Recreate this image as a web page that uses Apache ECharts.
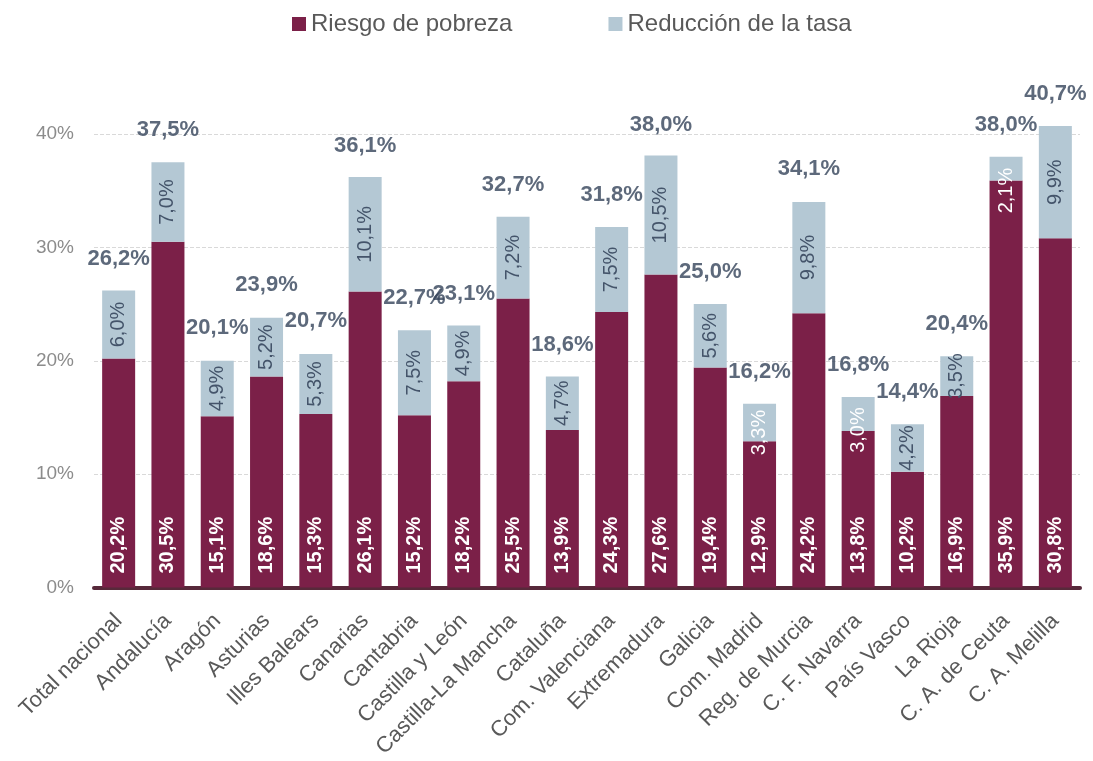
<!DOCTYPE html>
<html>
<head>
<meta charset="utf-8">
<title>Riesgo de pobreza</title>
<script src="https://cdn.jsdelivr.net/npm/echarts@6/dist/echarts.min.js"></script>
<style>
  html, body { margin: 0; padding: 0; background: #fff; }
  #chart { width: 1093px; height: 761px; }
</style>
</head>
<body>
<div id="chart"></div>
<script>
const categories = ["Total nacional", "Andalucía", "Aragón", "Asturias", "Illes Balears", "Canarias",
  "Cantabria", "Castilla y León", "Castilla-La Mancha", "Cataluña", "Com. Valenciana", "Extremadura",
  "Galicia", "Com. Madrid", "Reg. de Murcia", "C. F. Navarra", "País Vasco", "La Rioja",
  "C. A. de Ceuta", "C. A. Melilla"];
const riesgo = [20.2, 30.5, 15.1, 18.6, 15.3, 26.1, 15.2, 18.2, 25.5, 13.9, 24.3, 27.6, 19.4, 12.9, 24.2, 13.8, 10.2, 16.9, 35.9, 30.8];
const reduccion = [6.0, 7.0, 4.9, 5.2, 5.3, 10.1, 7.5, 4.9, 7.2, 4.7, 7.5, 10.5, 5.6, 3.3, 9.8, 3.0, 4.2, 3.5, 2.1, 9.9];
const totales = [26.2, 37.5, 20.1, 23.9, 20.7, 36.1, 22.7, 23.1, 32.7, 18.6, 31.8, 38.0, 25.0, 16.2, 34.1, 16.8, 14.4, 20.4, 38.0, 40.7];
const yTicks = [0, 10, 20, 30, 40];

const fmt = v => v.toFixed(1).replace(".", ",") + "%";

// etiquetas que no caben en el tramo: blancas y desplazadas hacia abajo
const ajustes = { 13: 10, 15: 16, 18: 22 };

const reduccionData = reduccion.map((v, i) => {
  if (ajustes[i] === undefined) return v;
  // con rotate 90 el eje x del texto apunta hacia arriba
  return { value: v, label: { color: "#ffffff", offset: [-ajustes[i], 0] } };
});

const chart = echarts.init(document.getElementById("chart"));
const option = {
  animation: false,
  textStyle: { fontFamily: "Liberation Sans, Arial, sans-serif" },
  legend: {
    top: 7,
    left: 287,
    itemWidth: 14,
    itemHeight: 14,
    itemGap: 96,
    icon: "rect",
    textStyle: { fontSize: 24, color: "#595959" },
    data: ["Riesgo de pobreza", "Reducción de la tasa"]
  },
  grid: { left: 94, right: 13, top: 134, bottom: 173.5, containLabel: false, outerBoundsMode: "none" },
  xAxis: {
    type: "category",
    data: categories,
    axisTick: { show: false },
    axisLine: { lineStyle: { color: "#57293a", width: 4 } },
    axisLabel: { rotate: 45, fontSize: 22, color: "#595959", margin: 30, interval: 0 }
  },
  yAxis: {
    type: "value",
    min: yTicks[0],
    max: yTicks[yTicks.length - 1],
    interval: 10,
    axisLine: { show: false },
    axisTick: { show: false },
    axisLabel: { fontSize: 19, color: "#8c8c8c", margin: 20, formatter: v => v + "%" },
    splitLine: { lineStyle: { color: "#d9d9d9", type: "dashed", width: 1 } }
  },
  series: [
    {
      name: "Riesgo de pobreza",
      type: "bar",
      stack: "t",
      barWidth: 33,
      clip: false,
      itemStyle: { color: "#7b2048" },
      label: {
        show: true,
        position: "insideBottom",
        rotate: 90,
        align: "left",
        verticalAlign: "middle",
        distance: 14,
        color: "#ffffff",
        fontWeight: "bold",
        fontSize: 20,
        formatter: p => fmt(p.value)
      },
      data: riesgo
    },
    {
      name: "Reducción de la tasa",
      type: "bar",
      stack: "t",
      barWidth: 33,
      clip: false,
      itemStyle: { color: "#b4c8d4" },
      label: {
        show: true,
        position: "inside",
        rotate: 90,
        color: "#44546a",
        fontSize: 20,
        formatter: p => fmt(typeof p.value === "number" ? p.value : p.data.value)
      },
      data: reduccionData
    },
    {
      name: "Total",
      type: "scatter",
      symbolSize: 0,
      clip: false,
      silent: true,
      label: {
        show: true,
        position: "top",
        distance: 21,
        color: "#34435a",
        fontWeight: "bold",
        fontSize: 22,
        formatter: p => fmt(p.value)
      },
      data: totales
    }
  ]
};
chart.setOption(option);
</script>
</body>
</html>
